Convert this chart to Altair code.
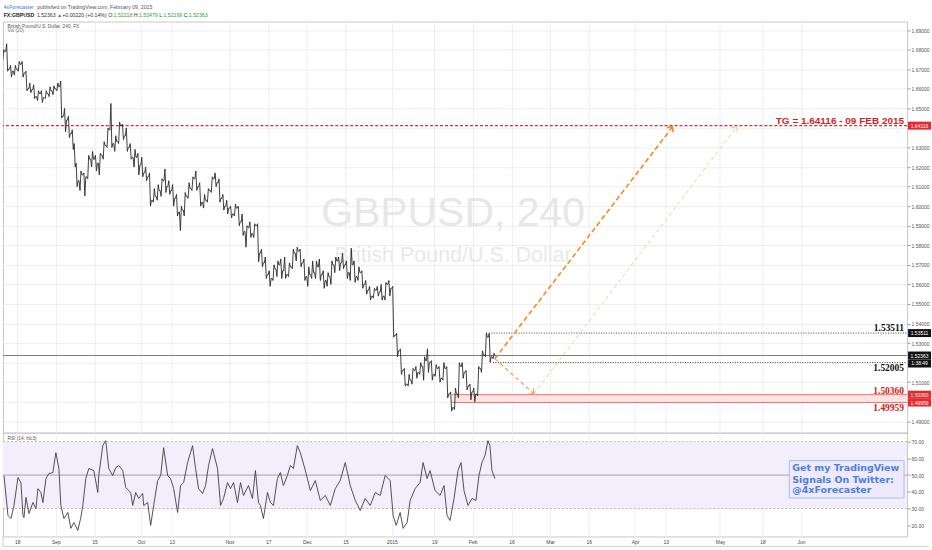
import math
import altair as alt
import pandas as pd

# ---------------------------------------------------------------------------
# GBPUSD, 240 min.  One row per trading day; day index counts trading days
# from Mon 1 Sep 2014 (weekends, 25 Dec and 1 Jan are skipped).
# ---------------------------------------------------------------------------
day_k = list(range(-14, 114))
opens = [
    1.6775, 1.6790, 1.6700, 1.6690, 1.6700, 1.6725, 1.6680, 1.6600, 1.6595, 1.6560,
    1.6575, 1.6555, 1.6575, 1.6590, 1.6600, 1.6610, 1.6460, 1.6440, 1.6370, 1.6200,
    1.6130, 1.6160, 1.6150, 1.6240, 1.6240, 1.6220, 1.6260, 1.6310, 1.6390, 1.6320,
    1.6330, 1.6410, 1.6360, 1.6300, 1.6250, 1.6250, 1.6210, 1.6170, 1.6150, 1.6030,
    1.6050, 1.6080, 1.6130, 1.6100, 1.6080, 1.6040, 1.5970, 1.5980, 1.6050, 1.6090,
    1.6140, 1.6100, 1.6020, 1.6030, 1.6080, 1.6140, 1.6120, 1.6040, 1.6000, 1.5990,
    1.5960, 1.5990, 1.5920, 1.5870, 1.5890, 1.5860, 1.5900, 1.5760, 1.5710, 1.5650,
    1.5630, 1.5680, 1.5700, 1.5670, 1.5650, 1.5690, 1.5760, 1.5770, 1.5710, 1.5640,
    1.5650, 1.5660, 1.5690, 1.5650, 1.5620, 1.5640, 1.5700, 1.5720, 1.5710, 1.5700,
    1.5660, 1.5700, 1.5640, 1.5660, 1.5600, 1.5570, 1.5540, 1.5570, 1.5560, 1.5540,
    1.5600, 1.5580, 1.5340, 1.5260, 1.5160, 1.5090, 1.5110, 1.5160, 1.5150, 1.5180,
    1.5210, 1.5200, 1.5140, 1.5170, 1.5120, 1.5170, 1.5040, 1.4970, 1.5040, 1.5180,
    1.5150, 1.5080, 1.5050, 1.5040, 1.5170, 1.5240, 1.5330, 1.5230,
]
highs = [
    1.6800, 1.6830, 1.6720, 1.6720, 1.6740, 1.6740, 1.6690, 1.6630, 1.6620, 1.6590,
    1.6590, 1.6590, 1.6610, 1.6615, 1.6630, 1.6640, 1.6500, 1.6460, 1.6390, 1.6220,
    1.6180, 1.6170, 1.6260, 1.6280, 1.6260, 1.6270, 1.6330, 1.6400, 1.6525, 1.6360,
    1.6430, 1.6420, 1.6400, 1.6320, 1.6290, 1.6270, 1.6250, 1.6200, 1.6170, 1.6090,
    1.6110, 1.6140, 1.6190, 1.6130, 1.6110, 1.6060, 1.6000, 1.6070, 1.6120, 1.6150,
    1.6180, 1.6120, 1.6060, 1.6090, 1.6150, 1.6170, 1.6140, 1.6060, 1.6030, 1.6000,
    1.6010, 1.6000, 1.5960, 1.5900, 1.5920, 1.5910, 1.5910, 1.5780, 1.5740, 1.5670,
    1.5700, 1.5720, 1.5730, 1.5740, 1.5710, 1.5780, 1.5790, 1.5780, 1.5730, 1.5690,
    1.5720, 1.5720, 1.5730, 1.5670, 1.5660, 1.5720, 1.5740, 1.5740, 1.5760, 1.5720,
    1.5785, 1.5720, 1.5690, 1.5670, 1.5620, 1.5590, 1.5580, 1.5590, 1.5600, 1.5610,
    1.5620, 1.5590, 1.5350, 1.5270, 1.5170, 1.5140, 1.5170, 1.5180, 1.5200, 1.5230,
    1.5270, 1.5210, 1.5190, 1.5180, 1.5200, 1.5180, 1.5050, 1.5070, 1.5200, 1.5200,
    1.5160, 1.5090, 1.5070, 1.5180, 1.5260, 1.5351, 1.5350, 1.5248,
]
lows = [
    1.6750, 1.6690, 1.6660, 1.6670, 1.6690, 1.6660, 1.6590, 1.6580, 1.6550, 1.6540,
    1.6530, 1.6550, 1.6560, 1.6570, 1.6590, 1.6450, 1.6380, 1.6350, 1.6290, 1.6100,
    1.6080, 1.6052, 1.6140, 1.6200, 1.6180, 1.6160, 1.6240, 1.6300, 1.6300, 1.6280,
    1.6320, 1.6340, 1.6280, 1.6240, 1.6200, 1.6160, 1.6150, 1.6130, 1.6000, 1.6020,
    1.6030, 1.6050, 1.6070, 1.6060, 1.6000, 1.5950, 1.5875, 1.5950, 1.6040, 1.6080,
    1.6080, 1.6000, 1.5990, 1.6020, 1.6070, 1.6100, 1.6020, 1.5980, 1.5960, 1.5940,
    1.5950, 1.5900, 1.5850, 1.5790, 1.5840, 1.5840, 1.5715, 1.5690, 1.5630, 1.5590,
    1.5620, 1.5640, 1.5630, 1.5630, 1.5640, 1.5680, 1.5720, 1.5690, 1.5620, 1.5590,
    1.5630, 1.5630, 1.5620, 1.5580, 1.5590, 1.5600, 1.5660, 1.5670, 1.5680, 1.5630,
    1.5620, 1.5610, 1.5620, 1.5580, 1.5550, 1.5520, 1.5530, 1.5540, 1.5520, 1.5520,
    1.5540, 1.5330, 1.5230, 1.5140, 1.5080, 1.5080, 1.5090, 1.5120, 1.5140, 1.5110,
    1.5150, 1.5110, 1.5130, 1.5100, 1.5110, 1.5020, 1.4952, 1.4960, 1.5020, 1.5120,
    1.5060, 1.5010, 1.5000, 1.5030, 1.5150, 1.5230, 1.5201, 1.5220,
]
closes = [
    1.6790, 1.6700, 1.6690, 1.6700, 1.6725, 1.6680, 1.6600, 1.6595, 1.6560, 1.6575,
    1.6555, 1.6575, 1.6590, 1.6600, 1.6610, 1.6460, 1.6440, 1.6370, 1.6320, 1.6130,
    1.6160, 1.6150, 1.6240, 1.6240, 1.6220, 1.6260, 1.6310, 1.6390, 1.6320, 1.6330,
    1.6410, 1.6360, 1.6300, 1.6250, 1.6250, 1.6210, 1.6170, 1.6150, 1.6030, 1.6050,
    1.6080, 1.6130, 1.6100, 1.6080, 1.6040, 1.5970, 1.5980, 1.6050, 1.6090, 1.6140,
    1.6100, 1.6020, 1.6030, 1.6080, 1.6140, 1.6120, 1.6040, 1.6000, 1.5990, 1.5960,
    1.5990, 1.5920, 1.5870, 1.5890, 1.5860, 1.5900, 1.5760, 1.5710, 1.5650, 1.5630,
    1.5680, 1.5700, 1.5670, 1.5650, 1.5690, 1.5760, 1.5770, 1.5710, 1.5640, 1.5650,
    1.5660, 1.5690, 1.5650, 1.5620, 1.5640, 1.5700, 1.5720, 1.5710, 1.5700, 1.5660,
    1.5700, 1.5640, 1.5660, 1.5600, 1.5570, 1.5540, 1.5570, 1.5560, 1.5540, 1.5600,
    1.5580, 1.5340, 1.5260, 1.5160, 1.5090, 1.5110, 1.5160, 1.5150, 1.5180, 1.5210,
    1.5200, 1.5140, 1.5170, 1.5120, 1.5170, 1.5040, 1.4970, 1.5040, 1.5180, 1.5150,
    1.5080, 1.5050, 1.5040, 1.5170, 1.5240, 1.5330, 1.5230, 1.52363,
]

# RSI (14, hlc3), sampled along the same trading-day index
rsi_k = [
    -13.44, -12.41, -11.63, -10.85, -9.82, -9.05, -8.53, -8.27, -7.75, -6.98,
    -5.94, -5.17, -4.65, -3.88, -3.36, -2.58, -1.81, -0.78, 0.0, 0.78,
    1.29, 2.07, 3.10, 3.88, 4.65, 5.69, 6.46, 6.98, 7.75, 8.53,
    9.82, 10.86, 11.11, 12.15, 12.92, 13.70, 14.73, 15.51, 16.28, 17.32,
    18.09, 19.38, 19.90, 20.68, 21.45, 22.49, 22.74, 23.78, 24.55, 25.33,
    26.36, 27.14, 27.91, 28.95, 29.72, 30.50, 31.53, 32.31, 33.08, 34.12,
    35.41, 36.18, 36.96, 37.99, 38.77, 39.54, 40.58, 41.87, 42.65, 43.42,
    44.46, 45.23, 46.01, 47.04, 47.82, 48.59, 49.88, 50.92, 51.69, 52.47,
    52.99, 53.76, 54.80, 55.57, 56.35, 57.38, 58.15, 58.93, 59.96, 60.74,
    61.51, 62.55, 63.32, 64.62, 65.91, 67.20, 68.49, 69.79, 71.08, 72.37,
    73.66, 74.95, 76.25, 77.54, 78.83, 80.12, 81.42, 82.71, 84.00, 85.29,
    86.59, 87.36, 88.14, 89.17, 89.95, 90.98, 91.76, 93.05, 94.34, 95.11,
    96.15, 96.92, 98.22, 99.51, 100.54, 101.32, 102.09, 103.13, 104.16, 104.94,
    105.71, 106.75, 107.78, 108.81, 109.59, 110.36, 111.14, 111.92, 112.43, 112.95,
    113.72,
]
rsi_v = [
    49.7, 25.8, 24.0, 31.8, 48.5, 45.5, 25.8, 24.6, 36.6, 27.0,
    33.6, 30.0, 41.9, 39.6, 33.6, 47.9, 50.9, 51.5, 63.4, 53.9,
    31.8, 24.0, 27.6, 18.1, 21.6, 16.9, 24.6, 31.8, 47.9, 53.9,
    52.7, 39.6, 49.7, 67.6, 70.6, 53.9, 49.7, 54.5, 55.7, 52.7,
    42.5, 39.6, 31.8, 39.6, 36.0, 39.0, 31.8, 33.6, 19.9, 31.8,
    46.7, 49.7, 66.4, 49.7, 47.9, 41.9, 27.6, 43.7, 45.5, 57.5,
    67.6, 53.9, 41.9, 39.0, 43.7, 55.7, 65.8, 53.9, 31.8, 36.0,
    45.5, 41.9, 45.5, 33.6, 45.5, 37.8, 43.7, 36.0, 52.7, 33.6,
    31.8, 24.0, 39.6, 33.6, 31.8, 47.9, 51.5, 43.7, 49.7, 55.7,
    53.9, 67.6, 63.4, 52.7, 40.7, 46.7, 34.8, 37.8, 31.8, 41.9,
    46.7, 57.5, 43.7, 34.8, 28.8, 36.0, 31.8, 39.6, 37.8, 49.7,
    46.7, 25.8, 19.9, 27.6, 18.1, 21.6, 34.8, 41.9, 45.5, 57.5,
    47.9, 52.7, 40.7, 37.8, 43.7, 25.8, 22.8, 36.0, 52.7, 57.5,
    40.7, 31.8, 36.0, 34.8, 49.7, 57.5, 61.6, 70.6, 67.6, 52.7,
    47.9,
]

# time axis
tick_k = [-10, 0, 10, 22, 30, 45, 55, 65, 75, 87, 98, 108, 118, 128, 138, 150, 158, 172, 183, 193]
tick_txt = ["18", "Sep", "15", "Oct", "13", "Nov", "17", "Dec", "15", "2015",
            "19", "Feb", "16", "Mar", "16", "Apr", "13", "May", "18", "Jun"]

# drawn price levels
target = 1.64116
last_price = 1.52363
level_hi = 1.53511
level_mid = 1.52005
zone_top = 1.50360
zone_bot = 1.49959

# projected paths (trading-day index, price)
path_main = [(113.7, 1.5220), (159.7, 1.6405)]
path_dip = [(113.7, 1.5220), (123.8, 1.5041)]
path_alt = [(123.8, 1.5041), (176.3, 1.6405)]

price_ticks = [round(1.49 + 0.01 * i, 2) for i in range(21)]
rsi_ticks = [20, 30, 40, 50, 60, 70]

# ---------------------------------------------------------------------------
# layout
# ---------------------------------------------------------------------------
W = 906
H_PRICE = 412
H_RSI = 104
X_DOM = [-13.70, 220.47]
P_DOM = [1.48419, 1.69439]
R_DOM = [13.28, 75.37]
PX_X = W / (X_DOM[1] - X_DOM[0])
PX_P = H_PRICE / (P_DOM[1] - P_DOM[0])

FONT = "Liberation Sans"
GRID = "#eeeeee"
RED = "#e8262b"
GREEN = "#2f9e35"
BLUE = "#3c7bd6"

xs = alt.Scale(domain=X_DOM, nice=False, zero=False)
ps = alt.Scale(domain=P_DOM, nice=False, zero=False)
rs = alt.Scale(domain=R_DOM, nice=False, zero=False)

# price tags on the scale: (caption, centre price, fill)
timer_p = last_price - 8.0 / PX_P
tags = [
    ("1.64116", target, RED),
    ("1.53511", level_hi, "#111111"),
    ("1.52363", last_price, "#111111"),
    ("1:38:49", timer_p, "#111111"),
    ("1.50360", zone_top, RED),
    ("1.49959", zone_bot, RED),
]

# regular scale labels that sit underneath a tag are left blank
hidden = [t for t in price_ticks if any(abs(t - p) * PX_P < 6.5 for _, p, _ in tags)]
p_label_expr = (" || ".join(f"abs(datum.value - {t}) < 0.0005" for t in hidden)
                + " ? '' : datum.label") if hidden else "datum.label"

label_expr = " : ".join(f"datum.value == {k} ? '{t}'" for k, t in zip(tick_k, tick_txt)) + " : ''"

x_grid_axis = alt.Axis(values=tick_k, labels=False, ticks=False, domain=False,
                       grid=True, gridColor=GRID, title=None)
x_time_axis = alt.Axis(values=tick_k, labelExpr=label_expr, ticks=False, domain=False,
                       grid=True, gridColor=GRID, title=None, labelFont=FONT,
                       labelFontSize=5, labelColor="#444", labelPadding=3,
                       labelFlush=False, labelOverlap=False)
p_axis = alt.Axis(orient="right", values=price_ticks, format=".5f", labelExpr=p_label_expr,
                  labelFont=FONT, labelFontSize=5, labelColor="#555", tickSize=3,
                  tickColor="#999", domain=False, grid=True, gridColor=GRID, title=None,
                  labelPadding=1, labelOverlap=False, labelFlush=False)
r_axis = alt.Axis(orient="right", values=rsi_ticks, format=".2f", labelFont=FONT,
                  labelFontSize=5, labelColor="#555", tickSize=3, tickColor="#999",
                  domain=False, grid=False, title=None, labelPadding=1,
                  labelOverlap=False, labelFlush=False)


def PX(f):
    return alt.X(f"{f}:Q", scale=xs, axis=x_grid_axis)


def PY(f):
    return alt.Y(f"{f}:Q", scale=ps, axis=p_axis)


def RX(f):
    return alt.X(f"{f}:Q", scale=xs, axis=x_time_axis)


def RY(f):
    return alt.Y(f"{f}:Q", scale=rs, axis=r_axis)


one = pd.DataFrame({"a": [0]})


def label(text, x, y, size, color, weight="normal", align="left", font=FONT):
    return alt.Chart(one).mark_text(
        text=text, align=align, baseline="middle", fontSize=size, font=font,
        fontWeight=weight, color=color,
    ).encode(x=alt.value(x), y=alt.value(y))


# approximate Arial advance widths, used to run coloured header pieces together
_W = {**{d: 0.556 for d in "0123456789"}, ".": 0.278, ":": 0.278, " ": 0.278,
      "+": 0.584, "(": 0.333, ")": 0.333, "%": 0.889, ",": 0.278, "\u25b2": 0.72,
      "F": 0.611, "X": 0.667, "G": 0.778, "B": 0.667, "P": 0.667, "U": 0.722,
      "S": 0.667, "D": 0.722, "O": 0.778, "H": 0.722, "L": 0.556, "C": 0.722,
      "T": 0.611, "V": 0.667}


def text_width(s, size, bold=False):
    w = sum(_W.get(ch, 0.5) for ch in s)
    return w * size * (1.06 if bold else 1.0)


# ---------------------------------------------------------------------------
# price pane
# ---------------------------------------------------------------------------
pts_k, pts_p = [], []
for k, o, h, l, c in zip(day_k, opens, highs, lows, closes):
    seq = (o, l, h, c) if c >= o else (o, h, l, c)
    for j, v in enumerate(seq):
        pts_k.append(k + 0.25 * j)
        pts_p.append(v)
price_df = pd.DataFrame({"k": pts_k, "p": pts_p})

layers = []

# symbol watermark
layers.append(label("GBPUSD, 240", 451, 193, 41, "#e7e7e7", align="center"))
layers.append(label("British Pound/U.S. Dollar", 451, 235, 21.5, "#e9e9e9", align="center"))

# support zone
zone_df = pd.DataFrame({"k0": [102.5], "k1": [X_DOM[1]], "p": [zone_top], "p2": [zone_bot]})
layers.append(alt.Chart(zone_df).mark_rect(color="#fde3e3").encode(
    x=PX("k0"), x2="k1", y=PY("p"), y2="p2"))
zone_lines = pd.DataFrame({"k0": [102.5, 102.5], "k1": [X_DOM[1]] * 2, "p": [zone_top, zone_bot]})
layers.append(alt.Chart(zone_lines).mark_rule(color="#ec6f6f", strokeWidth=1).encode(
    x=PX("k0"), x2="k1", y=PY("p")))

# last price line
layers.append(alt.Chart(pd.DataFrame({"p": [last_price]})).mark_rule(
    color="#7a7a7a", strokeWidth=1).encode(y=PY("p")))

# target line
layers.append(alt.Chart(pd.DataFrame({"p": [target]})).mark_rule(
    color=RED, strokeWidth=1.1, strokeDash=[3, 2]).encode(y=PY("p")))

# dotted levels
lvl_df = pd.DataFrame({"k0": [111.5, 113.2], "k1": [X_DOM[1]] * 2, "p": [level_hi, level_mid]})
layers.append(alt.Chart(lvl_df).mark_rule(
    color="#333333", strokeWidth=0.9, strokeDash=[1, 1.5]).encode(
    x=PX("k0"), x2="k1", y=PY("p")))

# price series
layers.append(alt.Chart(price_df).mark_line(
    color="#2b2b2b", strokeWidth=0.9, clip=True).encode(x=PX("k"), y=PY("p")))

# projected paths with open arrow heads
CHEVRON = "M-1,1L0,0L1,1"


def heading(a, b):
    dx = (b[0] - a[0]) * PX_X
    dy = (b[1] - a[1]) * PX_P
    return math.degrees(math.atan2(dx, dy)) % 360


for path, color, width, dash in [
    (path_alt, "#fcc79a", 1.0, [4, 3]),
    (path_dip, "#f3a052", 1.2, [4, 3]),
    (path_main, "#f08a1c", 1.6, [5, 3]),
]:
    df = pd.DataFrame({"k": [q[0] for q in path], "p": [q[1] for q in path]})
    layers.append(alt.Chart(df).mark_line(
        color=color, strokeWidth=width, strokeDash=dash).encode(x=PX("k"), y=PY("p")))
    tip = pd.DataFrame({"k": [path[1][0]], "p": [path[1][1]]})
    layers.append(alt.Chart(tip).mark_point(
        shape=CHEVRON, filled=False, size=60, strokeWidth=width, color=color,
        opacity=1, angle=heading(path[0], path[1])).encode(x=PX("k"), y=PY("p")))

# level captions
layers.append(alt.Chart(pd.DataFrame({"p": [target]})).mark_text(
    text="TG = 1.64116 - 09 FEB 2015", align="right", baseline="middle", dy=-5,
    font=FONT, fontSize=10, fontWeight="bold", color="#d21f1f").encode(
    x=alt.value(903), y=PY("p")))
for val, txt, col, dy in [
    (level_hi, "1.53511", "#111111", -5),
    (level_mid, "1.52005", "#111111", 5),
    (zone_top, "1.50360", "#cf2020", -4),
    (zone_bot, "1.49959", "#cf2020", 5.5),
]:
    layers.append(alt.Chart(pd.DataFrame({"p": [val]})).mark_text(
        text=txt, align="right", baseline="middle", dy=dy, font="Liberation Serif",
        fontSize=9.5, fontWeight="bold", color=col).encode(
        x=alt.value(903), y=PY("p")))

# price tags on the scale
half = 4.0 / PX_P
tag_df = pd.DataFrame({
    "txt": [t[0] for t in tags],
    "p": [t[1] for t in tags],
    "fill": [t[2] for t in tags],
})
tag_df["top"] = tag_df["p"] + half
tag_df["bot"] = tag_df["p"] - half
layers.append(alt.Chart(tag_df).mark_rect().encode(
    x=alt.value(W + 1), x2=alt.value(W + 24), y=PY("top"), y2="bot",
    color=alt.Color("fill:N", scale=None)))
layers.append(alt.Chart(tag_df).mark_text(
    align="center", baseline="middle", font=FONT, fontSize=5, color="white").encode(
    x=alt.value(W + 12.5), y=PY("p"), text="txt:N"))

# header lines
head1 = [("4xForecaster", BLUE, False, 1),
         ("published on TradingView.com, February 09, 2015", "#555555", False, 0)]
head2 = [("FX:GBPUSD", "#222222", True, 1), ("1.52363", "#333333", False, 1),
         ("\u25b2", GREEN, False, 1), ("+0.00220", "#333333", False, 1),
         ("(+0.14%)", "#333333", False, 1), ("O:", "#333333", False, 0),
         ("1.52218", GREEN, False, 1), ("H:", "#333333", False, 0),
         ("1.52479", GREEN, False, 1), ("L:", "#333333", False, 0),
         ("1.52199", GREEN, False, 1), ("C:", "#333333", False, 0),
         ("1.52363", GREEN, False, 0)]
HS = 5.2
for row, yy in [(head1, -14.3), (head2, -6.7)]:
    xx = 0.7
    for txt, col, bold, gap in row:
        layers.append(label(txt, xx, yy, HS, col, "bold" if bold else "normal"))
        xx += text_width(txt, HS, bold) + gap * text_width(" ", HS)

layers.append(label("British Pound/U.S. Dollar, 240, FX", 4.5, 5.2, 4.8, "#555555"))
layers.append(label("Vol (20)", 4.5, 9.6, 4.8, "#777777"))

# keeps the pane's top-left corner at a fixed offset from the page corner
layers.append(alt.Chart(one).mark_rule(opacity=0, strokeWidth=0.01).encode(
    x=alt.value(-2), x2=alt.value(0), y=alt.value(-20), y2=alt.value(-20)))

price_chart = alt.layer(*layers).properties(width=W, height=H_PRICE)

# ---------------------------------------------------------------------------
# RSI pane
# ---------------------------------------------------------------------------
rl = []
rl.append(alt.Chart(pd.DataFrame({"lo": [30], "hi": [70]})).mark_rect(color="#f3eefc").encode(
    x=alt.value(0), x2=alt.value(W), y=RY("hi"), y2="lo"))
rl.append(alt.Chart(pd.DataFrame({"v": [70, 30]})).mark_rule(
    color="#a9a9a9", strokeWidth=0.8, strokeDash=[2, 2]).encode(y=RY("v")))
rl.append(alt.Chart(pd.DataFrame({"v": [50]})).mark_rule(
    color="#9a9a9a", strokeWidth=0.9).encode(y=RY("v")))
rl.append(alt.Chart(pd.DataFrame({"k": rsi_k, "v": rsi_v})).mark_line(
    color="#3f3f3f", strokeWidth=0.9, clip=True).encode(x=RX("k"), y=RY("v")))

# promo box
rl.append(alt.Chart(one).mark_rect(fill="#eeeafb", stroke="#aebcea", strokeWidth=1).encode(
    x=alt.value(788), x2=alt.value(903), y=alt.value(28), y2=alt.value(65.5)))
for txt, yy in [("Get my TradingView", 35.5), ("Signals On Twitter:", 47), ("@4xForecaster", 57.5)]:
    rl.append(label(txt, 791, yy, 9.5, "#4d7fe3", "bold", font="DejaVu Sans"))

rl.append(label("RSI (14, hlc3)", 4.5, 6, 4.8, "#555555"))

# outer frame under the time scale
rl.append(alt.Chart(one).mark_rule(color="#cfcfcf", strokeWidth=1).encode(
    x=alt.value(0), x2=alt.value(928), y=alt.value(H_RSI + 10), y2=alt.value(H_RSI + 10)))
rl.append(alt.Chart(one).mark_rule(color="#cfcfcf", strokeWidth=1).encode(
    x=alt.value(0), x2=alt.value(0), y=alt.value(H_RSI), y2=alt.value(H_RSI + 10)))
rl.append(alt.Chart(one).mark_rule(opacity=0, strokeWidth=0.01).encode(
    x=alt.value(-2), x2=alt.value(0), y=alt.value(0), y2=alt.value(0)))

rsi_chart = alt.layer(*rl).properties(width=W, height=H_RSI)

chart = (
    alt.vconcat(price_chart, rsi_chart, spacing=0, bounds="flush")
    .properties(padding={"left": 0, "top": 0, "right": 0, "bottom": 0}, background="white")
    .configure_view(stroke="#c8c8c8", strokeWidth=1)
)

chart.save("out.html", embed_options={"renderer": "svg", "actions": False})
